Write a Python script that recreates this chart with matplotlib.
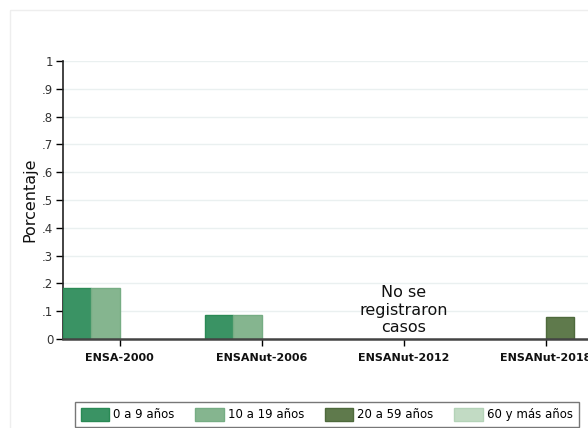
import matplotlib
matplotlib.use("Agg")
import matplotlib.pyplot as plt
from matplotlib.patches import Rectangle, Patch
import numpy as np

categories = ["ENSA-2000", "ENSANut-2006", "ENSANut-2012", "ENSANut-2018"]
series = ["0 a 9 años", "10 a 19 años", "20 a 59 años", "60 y más años"]
values = {
    "0 a 9 años":    [0.185, 0.085, 0.0, 0.0],
    "10 a 19 años":  [0.185, 0.085, 0.0, 0.0],
    "20 a 59 años":  [0.0, 0.0, 0.0, 0.08],
    "60 y más años": [0.0, 0.0, 0.0, 0.0],
}
yticks = [0, 0.1, 0.2, 0.3, 0.4, 0.5, 0.6, 0.7, 0.8, 0.9, 1.0]
yticklabels = ["0", ".1", ".2", ".3", ".4", ".5", ".6", ".7", ".8", ".9", "1"]
note = "No se\nregistraron\ncasos"

face = ["#3a9364", "#85b58f", "#5f7a4c", "#c2dbc4"]
edge = ["#2a8a55", "#76ad84", "#4e6a3c", "#b4d3b8"]

plt.rcParams['font.family'] = ['DejaVu Sans']

fig = plt.figure(figsize=(5.88, 4.28), dpi=100)
W, H = 588, 428

# outer faint frame
fig.patches.append(Rectangle((10 / W, -0.1), 1.2, 1 - 10 / H + 0.1,
                             transform=fig.transFigure, fill=False,
                             edgecolor="#eeeeee", linewidth=1))

ax = fig.add_axes([63 / W, (H - 339) / H, 3.8 * 142 / W, (339 - 61) / H])
ax.set_xlim(-0.4, 3.4)
ax.set_ylim(0, 1)

x = np.arange(len(categories))
bw = 0.2
for i, s in enumerate(series):
    vals = np.array(values[s], dtype=float)
    mask = vals > 0
    ax.bar((x - 0.3 + i * bw)[mask], vals[mask], width=bw, color=face[i],
           edgecolor=edge[i], linewidth=1, zorder=3)

ax.set_yticks(yticks)
ax.set_yticklabels(yticklabels, fontsize=8.5, color="#333333")
ax.set_xticks(x)
ax.set_xticklabels(categories, fontsize=8, fontweight="bold", color="#111111")
ax.tick_params(axis="x", length=5, width=1, pad=5)
ax.tick_params(axis="y", length=5, width=1, pad=2)
ax.yaxis.grid(True, color="#eaf0f0", linewidth=1, zorder=0)
ax.set_axisbelow(True)
for sp in ["top", "right"]:
    ax.spines[sp].set_visible(False)
ax.spines["left"].set_color("#222222")
ax.spines["bottom"].set_color("#444444")
ax.spines["left"].set_linewidth(1.2)
ax.spines["bottom"].set_linewidth(1.8)
ax.spines["bottom"].set_zorder(4)
ax.set_ylabel("Porcentaje", fontsize=11.5, color="#111111", labelpad=3)

ax.text(2, 0.104, note, ha="center", va="center", fontsize=11.5,
        color="#111111", linespacing=1.2)

handles = [Patch(facecolor=face[i], edgecolor=edge[i], label=series[i])
           for i in range(len(series))]
leg = fig.legend(handles=handles, loc="upper left",
                 bbox_to_anchor=(69 / W, 1 - 396 / H), ncol=4,
                 fontsize=8.5, frameon=True, fancybox=False,
                 handlelength=2.4, handleheight=1.3, columnspacing=1.75,
                 handletextpad=0.35, borderpad=0.5)
leg.get_frame().set_edgecolor("#555555")
leg.get_frame().set_linewidth(1)

fig.savefig("out.png", dpi=100)
